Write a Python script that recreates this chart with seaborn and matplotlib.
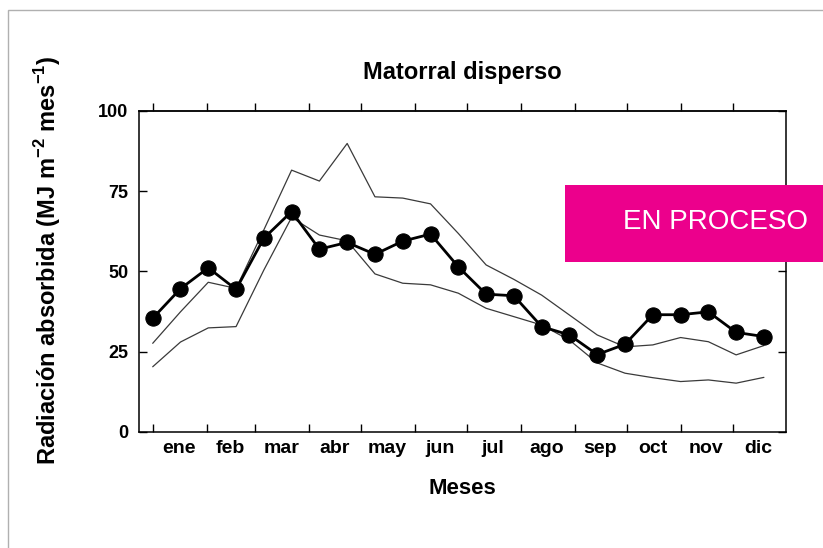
import numpy as np
import pandas as pd
import matplotlib
matplotlib.use("Agg")
import matplotlib.pyplot as plt
import seaborn as sns
from matplotlib.patches import Rectangle

# 16-day composites (day of year) and absorbed radiation values
days = [1, 17, 33, 49, 65, 81, 97, 113, 129, 145, 161, 177,
        193, 209, 225, 241, 257, 273, 289, 305, 321, 337, 353]
rad_actual = [35.4, 44.6, 51.1, 44.4, 60.3, 68.6, 56.9, 59.0, 55.3, 59.4, 61.6, 51.4,
              42.9, 42.4, 32.8, 30.2, 24.1, 27.3, 36.5, 36.5, 37.4, 31.0, 29.7]
rad_upper = [27.6, 37.4, 46.6, 44.7, 62.9, 81.5, 78.1, 89.8, 73.2, 72.8, 71.0, 61.8,
             52.0, 47.5, 42.6, 36.4, 30.2, 26.5, 27.1, 29.4, 28.1, 24.0, 26.9]
rad_lower = [20.3, 28.0, 32.4, 32.8, 50.4, 66.8, 61.3, 59.5, 49.2, 46.3, 45.8, 43.2,
             38.5, 35.9, 33.3, 28.6, 21.5, 18.3, 16.9, 15.7, 16.2, 15.2, 17.0]

months = ['ene', 'feb', 'mar', 'abr', 'may', 'jun', 'jul', 'ago', 'sep', 'oct', 'nov', 'dic']
month_len = [31, 28, 31, 30, 31, 30, 31, 31, 30, 31, 30, 31]
y_ticks = [0, 25, 50, 75, 100]

df = pd.DataFrame({'dia': days, 'actual': rad_actual,
                   'superior': rad_upper, 'inferior': rad_lower})

sns.set_theme(style='white')
plt.rcParams['font.family'] = ['Liberation Sans', 'DejaVu Sans']
plt.rcParams['mathtext.fontset'] = 'custom'
plt.rcParams['mathtext.rm'] = 'Liberation Sans'
plt.rcParams['mathtext.bf'] = 'Liberation Sans:bold'
plt.rcParams['text.color'] = 'black'
plt.rcParams['axes.labelcolor'] = 'black'
plt.rcParams['xtick.color'] = 'black'
plt.rcParams['ytick.color'] = 'black'

fig = plt.figure(figsize=(8.23, 5.48), dpi=100)
ax = fig.add_axes([0.1693, 0.2117, 0.7857, 0.5863])

# thin grey frame around the figure
fig.patches.append(Rectangle((8 / 823, -0.05), 1.2, 1 - 10 / 548 + 0.05,
                             transform=fig.transFigure, fill=False,
                             edgecolor='#b0b0b0', linewidth=1.0))

sns.lineplot(data=df, x='dia', y='superior', ax=ax, color='#3a3a3a', linewidth=0.9)
sns.lineplot(data=df, x='dia', y='inferior', ax=ax, color='#3a3a3a', linewidth=0.9)
sns.lineplot(data=df, x='dia', y='actual', ax=ax, color='black', linewidth=2.0,
             marker='o', markersize=11, markeredgecolor='black', markerfacecolor='black')

month_start = np.concatenate([[1], 1 + np.cumsum(month_len)[:-1]])
month_mid = month_start + np.array(month_len) / 2 - 0.5

ax.set_xlim(-6.7, 365.7)
ax.set_ylim(0, 100)
ax.set_xticks(month_start)
ax.set_xticklabels([])
ax.set_xticks(month_mid, minor=True)
ax.set_xticklabels(months, minor=True, fontsize=14, fontweight='bold')
ax.tick_params(axis='x', which='major', direction='in', length=6, width=1, color='black',
               bottom=True)
ax.tick_params(axis='x', which='minor', length=0, pad=6)

ax.set_yticks(y_ticks)
ax.set_yticklabels([str(v) for v in y_ticks], fontsize=13, fontweight='bold')
ax.tick_params(axis='y', direction='in', length=6, width=1, color='black',
               left=True, right=True, pad=8)

# top axis: ticks pointing outward, no labels
top = ax.secondary_xaxis('top')
top.set_xticks(month_start)
top.set_xticklabels([])
top.tick_params(direction='out', length=6, width=1, color='black')
top.spines['top'].set_linewidth(1.1)

for s in ax.spines.values():
    s.set_color('black')
    s.set_linewidth(1.1)

ax.set_xlabel('Meses', fontsize=16, fontweight='bold', va='center')
ax.xaxis.set_label_coords(0.5, -0.1774)
ax.set_ylabel(r'Radiación absorbida (MJ m$^{\mathbf{-2}}$ mes$^{\mathbf{-1}}$)',
              fontsize=17, fontweight='bold', va='center')
ax.yaxis.set_label_coords(-0.1412, 0.535)
ax.text(0.5, 1.1204, 'Matorral disperso', transform=ax.transAxes, ha='center',
        va='center', fontsize=17, fontweight='bold')

# "EN PROCESO" stamp
fig.patches.append(Rectangle((565 / 823, 1 - 262 / 548), (823 - 565) / 823, 77 / 548,
                             transform=fig.transFigure, facecolor='#ec008c',
                             edgecolor='none', zorder=5))
fig.text(623 / 823, 1 - 222 / 548, 'EN PROCESO', color='white', fontsize=20,
         ha='left', va='center', zorder=6)

fig.savefig('out.png', dpi=100)
